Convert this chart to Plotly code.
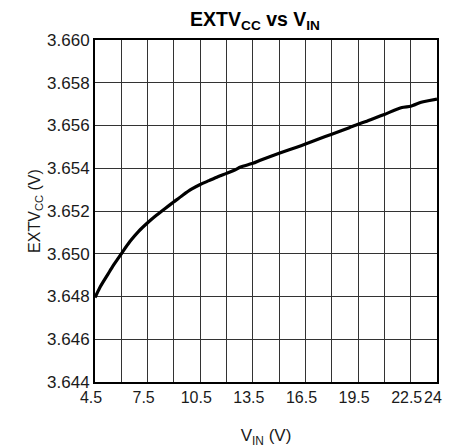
import plotly.graph_objects as go

vin = [4.5, 4.75, 5.0, 5.25, 5.5, 5.75, 6.0, 6.5, 7.0, 7.5, 8.0, 8.5, 9.0, 9.5, 10.0,
       10.5, 11.0, 11.5, 12.0, 12.5, 12.8, 13.5, 14.0, 15.0, 16.0, 16.5, 17.25, 18.0,
       19.0, 19.5, 20.0, 21.0, 22.0, 22.5, 23.1, 23.5, 24.0]
extvcc = [3.64795, 3.64838, 3.64873, 3.64906, 3.64940, 3.64970, 3.65000, 3.65058, 3.65106,
          3.65145, 3.65180, 3.65212, 3.65243, 3.65274, 3.65302, 3.65324, 3.65342, 3.65360,
          3.65376, 3.65393, 3.65406, 3.65423, 3.65440, 3.65470, 3.65498, 3.65513, 3.65537,
          3.65559, 3.65590, 3.65606, 3.65620, 3.65652, 3.65684, 3.65690, 3.65709, 3.65716,
          3.65724]

x_tickvals = [4.5, 7.5, 10.5, 13.5, 16.5, 19.5, 22.5, 24.0]
x_ticktext = ["4.5", "7.5", "10.5", "13.5", "16.5", "19.5", "22.5", "24"]
x_minor_gridvals = [6.0, 9.0, 12.0, 15.0, 18.0, 21.0]
y_tickvals = [3.644, 3.646, 3.648, 3.650, 3.652, 3.654, 3.656, 3.658, 3.660]

font_family = "Liberation Sans, Arial, sans-serif"

fig = go.Figure()
fig.add_trace(go.Scatter(x=vin, y=extvcc, mode="lines",
                         line=dict(color="black", width=3.2, shape="spline", smoothing=0.6),
                         showlegend=False, hoverinfo="skip"))

fig.update_layout(
    template="none",
    width=449, height=448,
    margin=dict(l=95, r=12, t=40, b=66, autoexpand=False),
    paper_bgcolor="white", plot_bgcolor="white",
    font=dict(family=font_family, size=16, color="#1a1a1a"),
    title=dict(text="<b>EXTV<sub>CC</sub> vs V<sub>IN</sub></b>", x=0.568, xanchor="center",
               y=0.958, yanchor="middle", font=dict(size=19.5, color="black", family=font_family)),
    xaxis=dict(range=[4.5, 24], tickvals=x_tickvals, ticktext=x_ticktext, automargin=False,
               tickangle=0, ticklabelshift=-4,
               showgrid=True, gridcolor="#333", gridwidth=1, ticks="", ticklen=0,
               minor=dict(tickvals=x_minor_gridvals, showgrid=True, gridcolor="#333",
                          gridwidth=1, ticks=""),
               zeroline=False, showline=True, linecolor="black", linewidth=2, mirror=True,
               tickfont=dict(size=16, color="#1a1a1a"),
               title=dict(text="V<sub>IN</sub> (V)", font=dict(size=17, color="#1a1a1a"))),
    yaxis=dict(range=[3.644, 3.660], tickvals=y_tickvals, tickformat=".3f", automargin=False,
               showgrid=True, gridcolor="#333", gridwidth=1, ticks="", ticklen=0,
               zeroline=False, showline=True, linecolor="black", linewidth=2, mirror=True,
               tickfont=dict(size=17, color="#1a1a1a"),
               title=dict(text="EXTV<sub>CC</sub> (V)", font=dict(size=16, color="#1a1a1a"))),
)

fig.write_html("out.html", config={"displayModeBar": False},
               post_script="document.body.style.margin='0';document.body.style.overflow='hidden';")
